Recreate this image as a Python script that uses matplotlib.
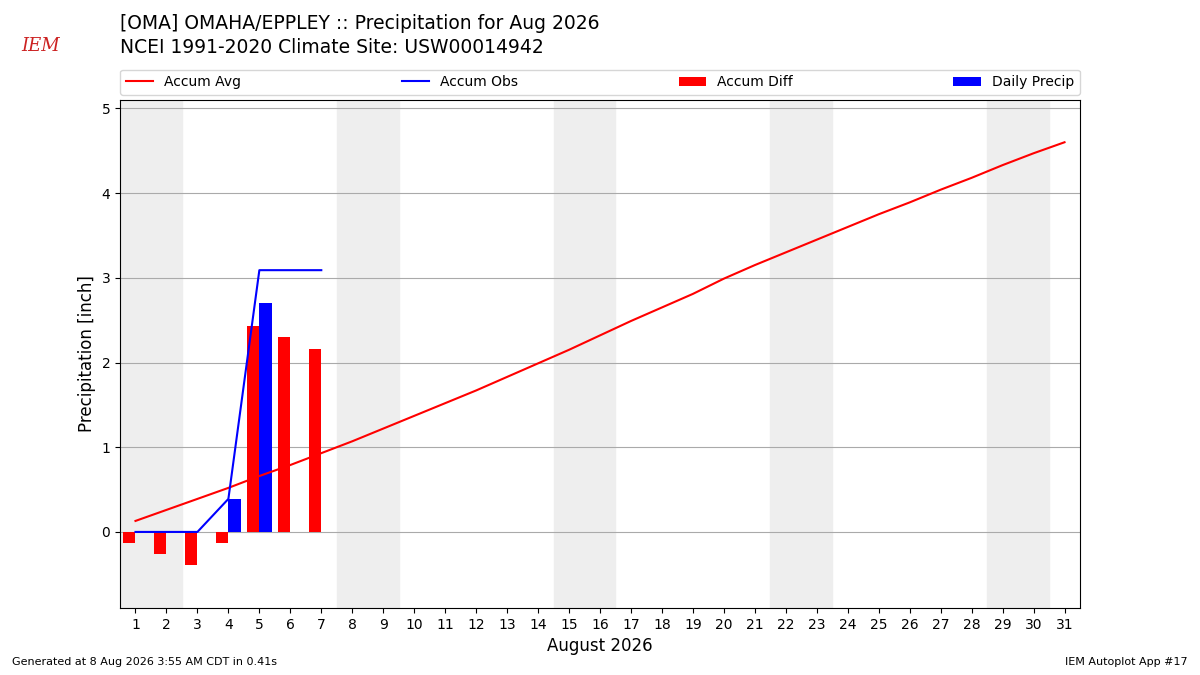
import matplotlib
matplotlib.use("Agg")
import matplotlib.pyplot as plt
import numpy as np

days = np.arange(1, 32)
accum_avg = [0.13, 0.26, 0.39, 0.52, 0.66, 0.79, 0.93, 1.07, 1.22, 1.37, 1.52,
             1.67, 1.83, 1.99, 2.15, 2.32, 2.49, 2.65, 2.81, 2.99, 3.15, 3.30,
             3.45, 3.60, 3.75, 3.89, 4.04, 4.18, 4.33, 4.47, 4.60]
obs_days = np.arange(1, 8)
accum_obs = [0.0, 0.0, 0.0, 0.39, 3.09, 3.09, 3.09]
daily_precip = [0.0, 0.0, 0.0, 0.39, 2.70, 0.0, 0.0]
accum_diff = [-0.13, -0.26, -0.39, -0.13, 2.43, 2.30, 2.16]
weekends = [1, 8, 15, 22, 29]

fig = plt.figure(figsize=(12, 6.75), dpi=100)
ax = fig.add_axes([0.1, 0.099, 0.8, 0.753])

for d in weekends:
    ax.axvspan(d - 0.5, d + 1.5, color="#eeeeee", zorder=0)

ax.plot(days, accum_avg, color="r", label="Accum Avg", zorder=3)
ax.plot(obs_days, accum_obs, color="b", label="Accum Obs", zorder=3)
ax.bar(obs_days - 0.2, accum_diff, width=0.4, color="r", label="Accum Diff", zorder=2)
ax.bar(obs_days + 0.2, daily_precip, width=0.4, color="b", label="Daily Precip", zorder=2)

ax.set_xlim(0.5, 31.5)
ax.set_ylim(-0.9, 5.1)
ax.set_xticks(days)
ax.set_yticks([0, 1, 2, 3, 4, 5])
ax.grid(axis="y", color="#aaaaaa")
ax.set_axisbelow(True)
ax.set_xlabel("August 2026", fontsize=12)
ax.set_ylabel("Precipitation [inch]", fontsize=12)
ax.legend(loc="lower left", bbox_to_anchor=(0, 1.01, 1, 0.05), ncol=4,
          mode="expand", borderaxespad=0, fontsize=10)

fig.text(0.1, 0.965, "[OMA] OMAHA/EPPLEY :: Precipitation for Aug 2026", fontsize=13.5, va="center")
fig.text(0.1, 0.93, "NCEI 1991-2020 Climate Site: USW00014942", fontsize=13.5, va="center")
fig.text(0.01, 0.015, "Generated at 8 Aug 2026 3:55 AM CDT in 0.41s", fontsize=8)
fig.text(0.99, 0.015, "IEM Autoplot App #17", fontsize=8, ha="right")
fig.text(0.018, 0.925, "IEM", fontsize=13, color="#cc2222", style="italic", family="serif")

fig.savefig("out.png")
